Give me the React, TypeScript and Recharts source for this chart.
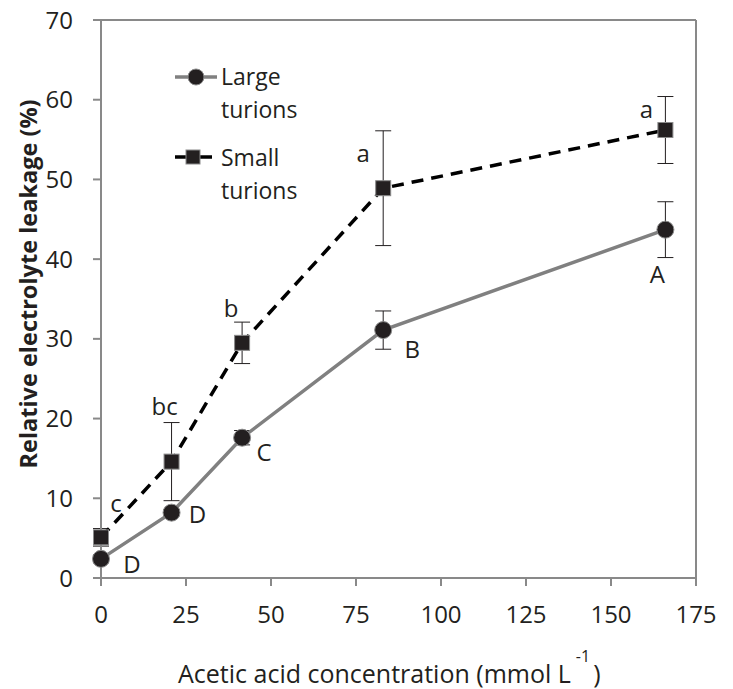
import React from 'react';
import { LineChart, Line, XAxis, YAxis, ErrorBar, LabelList, Label, ReferenceLine } from 'recharts';

document.body.style.margin = '0';

// acetic acid concentration (mmol/L)
const concentrations = [0, 20.75, 41.5, 83, 166];

// relative electrolyte leakage (%)
const largeTurions = [2.4, 8.2, 17.6, 31.1, 43.7];
const largeErr = [0.5, 0.4, 0.9, 2.4, 3.5];
const largeLetters = ['D', 'D', 'C', 'B', 'A'];

const smallTurions = [5.1, 14.6, 29.5, 48.9, 56.2];
const smallErr = [1.1, 4.9, 2.6, 7.2, 4.2];
const smallLetters = ['c', 'bc', 'b', 'a', 'a'];

const xTicks = [0, 25, 50, 75, 100, 125, 150, 175];
const yTicks = [0, 10, 20, 30, 40, 50, 60, 70];

const data = concentrations.map((c, i) => ({
  conc: c,
  large: largeTurions[i],
  largeErr: largeErr[i],
  small: smallTurions[i],
  smallErr: smallErr[i],
}));

// where each letter sits relative to its point (text centre x, baseline y)
const largeLetterPos = [[31, 14], [26, 10], [22, 23], [29, 28], [-8, 53]];
const smallLetterPos = [[15, -25], [-7, -47], [-11, -26], [-20, -26], [-19, -12]];

const FONT = '"Open Sans", sans-serif';
const TEXT = '#231f20';
const AXIS = '#898989';
const MARK = '#231f20';

const letterRenderer = (letters: string[], pos: number[][]) => (props: any) => {
  const { x, y, index } = props;
  return (
    <text
      x={x + pos[index][0]}
      y={y + pos[index][1]}
      textAnchor="middle"
      fontSize={24}
      fontFamily={FONT}
      fill={TEXT}
    >
      {letters[index]}
    </text>
  );
};

const CircleDot = (props: any) => {
  const { cx, cy } = props;
  return <circle cx={cx} cy={cy} r={8.5} fill={MARK} stroke="#8a8a8a" strokeWidth={1} />;
};

const SquareDot = (props: any) => {
  const { cx, cy } = props;
  return <rect x={cx - 7.5} y={cy - 7.5} width={15} height={15} fill={MARK} stroke="#8a8a8a" strokeWidth={1} />;
};

/** x axis title plus the legend box, drawn inside the svg */
const XTitle = () => (
  <g>
    <text x={178} y={683} fontSize={25} fontFamily={FONT} fill={TEXT}>
      Acetic acid concentration (mmol L
      <tspan dx={5} dy={-21} fontSize={16}>-1</tspan>
      <tspan dx={3} dy={21} fontSize={25}>)</tspan>
    </text>
    <g fontFamily={FONT} fontSize={23} fill={TEXT}>
      <line x1={175} y1={77} x2={217} y2={77} stroke="#808080" strokeWidth={3.5} />
      <circle cx={196} cy={77} r={8} fill={MARK} stroke="#8a8a8a" />
      <text x={221} y={85}>Large</text>
      <text x={221} y={118}>turions</text>
      <line x1={175} y1={157} x2={212} y2={157} stroke="#000" strokeWidth={3.5} />
      <rect x={186} y={150} width={14} height={14} fill={MARK} stroke="#8a8a8a" />
      <text x={221} y={166}>Small</text>
      <text x={221} y={199}>turions</text>
    </g>
  </g>
);

const YTitle = () => (
  <text
    x={28}
    y={284}
    transform="rotate(-90 28 284)"
    textAnchor="middle"
    dominantBaseline="central"
    fontSize={23.5}
    fontWeight="bold"
    fontFamily={FONT}
    fill={TEXT}
  >
    Relative electrolyte leakage (%)
  </text>
);

export default function App() {
  return (
    <LineChart
      width={733}
      height={689}
      data={data}
      margin={{ top: 20, right: 37, left: 41, bottom: 81 }}
    >
      <XAxis
        dataKey="conc"
        type="number"
        domain={[0, 175]}
        ticks={xTicks}
        height={30}
        stroke={AXIS}
        strokeWidth={2}
        tickSize={8}
        tickMargin={20}
        tick={{ fill: TEXT, fontSize: 24, fontFamily: FONT }}
      >
        <Label content={XTitle} />
      </XAxis>
      <YAxis
        type="number"
        domain={[0, 70]}
        ticks={yTicks}
        width={60}
        stroke={AXIS}
        strokeWidth={2}
        tickSize={8}
        tickMargin={20}
        tick={{ fill: TEXT, fontSize: 24, fontFamily: FONT }}
      >
        <Label content={YTitle} />
      </YAxis>
      <ReferenceLine y={70} stroke={AXIS} strokeWidth={2} />
      <ReferenceLine x={175} stroke={AXIS} strokeWidth={2} />

      <Line
        dataKey="large"
        stroke="#808080"
        strokeWidth={3.5}
        dot={<CircleDot />}
        activeDot={false}
        isAnimationActive={false}
      >
        <ErrorBar dataKey="largeErr" direction="y" width={8} stroke={MARK} strokeWidth={1} />
        <LabelList dataKey="large" content={letterRenderer(largeLetters, largeLetterPos)} />
      </Line>
      <Line
        dataKey="small"
        stroke="#000000"
        strokeWidth={3.5}
        strokeDasharray="12 8"
        dot={<SquareDot />}
        activeDot={false}
        isAnimationActive={false}
      >
        <ErrorBar dataKey="smallErr" direction="y" width={8} stroke={MARK} strokeWidth={1} />
        <LabelList dataKey="small" content={letterRenderer(smallLetters, smallLetterPos)} />
      </Line>
    </LineChart>
  );
}
